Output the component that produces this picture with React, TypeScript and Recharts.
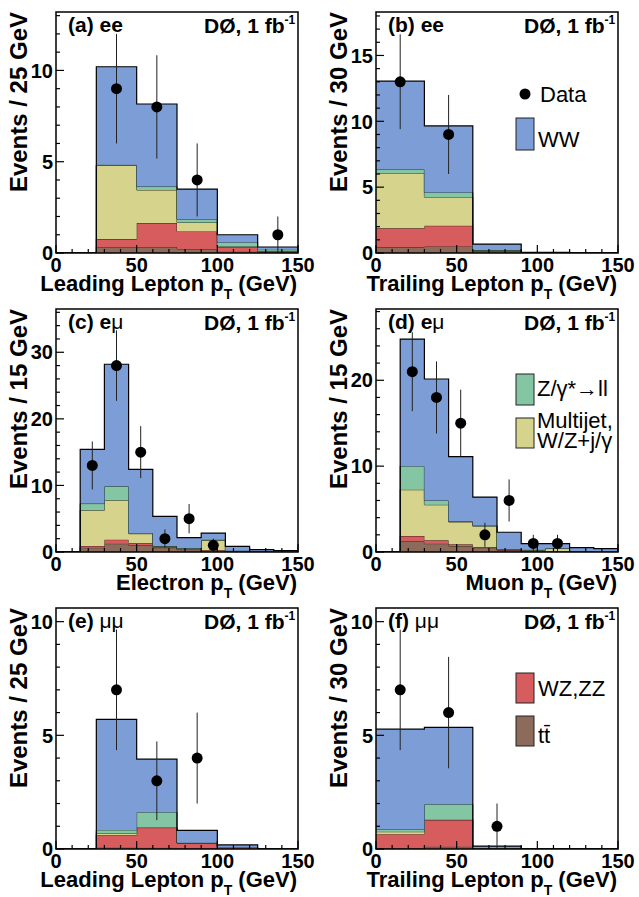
import React from 'react';
import { ComposedChart, Area, Scatter, ErrorBar, XAxis, YAxis, ReferenceArea } from 'recharts';

// D0 WW -> lepton pT distributions, six panels of stacked MC + data

// colours of the stacked backgrounds (bottom to top)
const C_TT = '#8c6b5a';
const C_WZ = '#d65c5e';
const C_MJ = '#d6d48c';
const C_ZG = '#84c6a4';
const C_WW = '#7d9dd6';

// (a) ee, leading lepton, 25 GeV bins (bin low edges)
const edgesA = [0, 25, 50, 75, 100, 125];
const ttA = [0, 0.33, 0.33, 0.22, 0.07, 0.04];
const wzA = [0, 0.43, 1.31, 0.96, 0.26, 0.05];
const mjA = [0, 4.04, 1.81, 0.49, 0.03, 0.01];
const zgA = [0, 0.03, 0.19, 0.18, 0.22, 0.08];
const wwA = [0, 5.37, 4.52, 1.65, 0.42, 0.15];
const dataXA = [37.5, 62.5, 87.5, 137.5];
const dataYA = [9, 8, 4, 1];
const dataErrA = [3, 2.83, 2, 1];

// (b) ee, trailing lepton, 30 GeV bins
const edgesB = [0, 30, 60, 90, 120];
const ttB = [0.45, 0.5, 0.13, 0.02, 0];
const wzB = [1.42, 1.57, 0.05, 0.01, 0];
const mjB = [4.19, 2.17, 0.01, 0, 0];
const zgB = [0.3, 0.36, 0.03, 0, 0];
const wwB = [6.69, 5.05, 0.46, 0.02, 0];
const dataXB = [15, 45];
const dataYB = [13, 9];
const dataErrB = [3.6, 3];

// (c) emu, electron, 15 GeV bins
const edgesC = [0, 15, 30, 45, 60, 75, 90, 105, 120, 135];
const ttC = [0, 0.65, 1.25, 1.0, 0.65, 0.35, 0.2, 0.05, 0.05, 0.03];
const wzC = [0, 0.25, 0.6, 0.35, 0.1, 0.05, 0.05, 0.05, 0.02, 0.01];
const mjC = [0, 5.37, 5.92, 1.4, 0.1, 0.1, 1.5, 0.05, 0.03, 0.01];
const zgC = [0, 1.0, 2.1, 0.1, 0.05, 0.05, 0.1, 0.05, 0.02, 0.01];
const wwC = [0, 8.13, 18.33, 9.55, 4.45, 1.6, 1.0, 0.65, 0.23, 0.14];
const dataXC = [22.5, 37.5, 52.5, 67.5, 82.5, 97.5];
const dataYC = [13, 28, 15, 2, 5, 1];
const dataErrC = [3.6, 5.3, 3.9, 1.4, 2.2, 1];

// (d) emu, muon, 15 GeV bins
const edgesD = [0, 15, 30, 45, 60, 75, 90, 105, 120, 135];
const ttD = [0, 1.24, 0.97, 0.7, 0.5, 0.2, 0.1, 0.05, 0.05, 0.03];
const wzD = [0, 0.62, 0.39, 0.2, 0.08, 0.05, 0.05, 0.05, 0.02, 0.01];
const mjD = [0, 5.39, 4.14, 2.6, 2.42, 0.05, 0.05, 0.3, 0.03, 0.01];
const zgD = [0, 2.75, 0.5, 0.07, 0.1, 0.05, 0.05, 0.05, 0.02, 0.01];
const wwD = [0, 14.8, 14.15, 7.53, 3.3, 1.95, 0.72, 0.52, 0.38, 0.34];
const dataXD = [22.5, 37.5, 52.5, 67.5, 82.5, 97.5, 112.5];
const dataYD = [21, 18, 15, 2, 6, 1, 1];
const dataErrD = [4.6, 4.2, 3.9, 1.4, 2.45, 1, 1];

// (e) mumu, leading lepton, 25 GeV bins
const edgesE = [0, 25, 50, 75, 100, 125];
const ttE = [0, 0.06, 0.05, 0.02, 0.01, 0];
const wzE = [0, 0.54, 0.89, 0.23, 0.05, 0];
const mjE = [0, 0.1, 0.01, 0.01, 0, 0];
const zgE = [0, 0.14, 0.67, 0.01, 0.01, 0];
const wwE = [0, 4.86, 2.33, 0.55, 0.11, 0];
const dataXE = [37.5, 62.5, 87.5];
const dataYE = [7, 3, 4];
const dataErrE = [2.65, 1.73, 2];

// (f) mumu, trailing lepton, 30 GeV bins
const edgesF = [0, 30, 60, 90, 120];
const ttF = [0.03, 0.1, 0.02, 0, 0];
const wzF = [0.62, 1.18, 0.01, 0, 0];
const mjF = [0.11, 0.01, 0, 0, 0];
const zgF = [0.11, 0.68, 0.01, 0, 0];
const wwF = [4.4, 3.38, 0.09, 0, 0];
const dataXF = [15, 45, 75];
const dataYF = [7, 6, 1];
const dataErrF = [2.65, 2.45, 1];

const X_MAX = 150;
const FONT = '"Liberation Sans", Arial, sans-serif';

function histRows(edges, tt, wz, mj, zg, ww) {
  const rows = edges.map((x, i) => ({ x, tt: tt[i], wz: wz[i], mj: mj[i], zg: zg[i], ww: ww[i] }));
  // closing edge so the last bin is drawn up to 150
  rows.push({ x: X_MAX, tt: 0, wz: 0, mj: 0, zg: 0, ww: 0 });
  return rows;
}

function pointRows(xs, ys, errs) {
  return xs.map((x, i) => ({ x, y: ys[i], err: [Math.min(errs[i], ys[i]), errs[i]] }));
}

function range(step, max) {
  const out = [];
  for (let i = 0; i * step <= max + 1e-9; i++) out.push(+(i * step).toFixed(4));
  return out;
}

const panels = [
  { key: 'a', rows: histRows(edgesA, ttA, wzA, mjA, zgA, wwA), pts: pointRows(dataXA, dataYA, dataErrA), ymax: 13.2, major: 5, minor: 1, label: '(a) ee', sym: false, yTitle: 'Events / 25 GeV', xTitle: 'Leading Lepton p' },
  { key: 'b', rows: histRows(edgesB, ttB, wzB, mjB, zgB, wwB), pts: pointRows(dataXB, dataYB, dataErrB), ymax: 18.3, major: 5, minor: 1, label: '(b) ee', sym: false, yTitle: 'Events / 30 GeV', xTitle: 'Trailing Lepton p' },
  { key: 'c', rows: histRows(edgesC, ttC, wzC, mjC, zgC, wwC), pts: pointRows(dataXC, dataYC, dataErrC), ymax: 36.5, major: 10, minor: 2, label: '(c) e', sym: 'μ', yTitle: 'Events / 15 GeV', xTitle: 'Electron p' },
  { key: 'd', rows: histRows(edgesD, ttD, wzD, mjD, zgD, wwD), pts: pointRows(dataXD, dataYD, dataErrD), ymax: 28.3, major: 10, minor: 2, label: '(d) e', sym: 'μ', yTitle: 'Events / 15 GeV', xTitle: 'Muon p' },
  { key: 'e', rows: histRows(edgesE, ttE, wzE, mjE, zgE, wwE), pts: pointRows(dataXE, dataYE, dataErrE), ymax: 10.6, major: 5, minor: 1, label: '(e) ', sym: 'μμ', yTitle: 'Events / 25 GeV', xTitle: 'Leading Lepton p' },
  { key: 'f', rows: histRows(edgesF, ttF, wzF, mjF, zgF, wwF), pts: pointRows(dataXF, dataYF, dataErrF), ymax: 10.6, major: 5, minor: 1, label: '(f) ', sym: 'μμ', yTitle: 'Events / 30 GeV', xTitle: 'Trailing Lepton p' },
];

// layout: chart boxes and plot frames
const CW = 320;
const CH = 300;
const FL = 56;
const FW = 242;
const FT = 12;
const rowTops = [0, 297, 596];
const frameHeights = [241, 243, 241];

function isMajor(v, major) {
  const r = v / major;
  return Math.abs(r - Math.round(r)) < 1e-6;
}

function Panel({ p, col, row }) {
  const fh = frameHeights[row];
  const bottom = FT + fh;
  const yTicks = range(p.minor, p.ymax);
  const xTicks = range(10, X_MAX);

  const yTick = (props) => {
    const v = props.payload.value;
    const y = props.y;
    const mj = isMajor(v, p.major);
    return (
      <g>
        <line x1={FL} x2={FL + (mj ? 8 : 4)} y1={y} y2={y} stroke="#000" strokeWidth={1.2} />
        {mj && (
          <text x={FL - 3} y={y} dy="0.36em" textAnchor="end" fontFamily={FONT} fontWeight="bold" fontSize={20} fill="#000">
            {v}
          </text>
        )}
      </g>
    );
  };

  const xTick = (props) => {
    const v = props.payload.value;
    const x = props.x;
    const mj = isMajor(v, 50);
    return (
      <g>
        <line x1={x} x2={x} y1={bottom} y2={bottom - (mj ? 8 : 4)} stroke="#000" strokeWidth={1.2} />
        {mj && (
          <text x={x} y={bottom + 19} textAnchor="middle" fontFamily={FONT} fontWeight="bold" fontSize={20} fill="#000">
            {v}
          </text>
        )}
      </g>
    );
  };

  return (
    <div style={{ position: 'absolute', left: col * 320, top: rowTops[row] }}>
      <ComposedChart width={CW} height={CH} data={p.rows} margin={{ top: FT, left: 0, right: CW - FL - FW, bottom: 0 }}>
        <Area type="stepAfter" dataKey="tt" stackId="s" fill={C_TT} fillOpacity={1} stroke="#3a2a22" strokeWidth={1} isAnimationActive={false} />
        <Area type="stepAfter" dataKey="wz" stackId="s" fill={C_WZ} fillOpacity={1} stroke="#4a2020" strokeWidth={1} isAnimationActive={false} />
        <Area type="stepAfter" dataKey="mj" stackId="s" fill={C_MJ} fillOpacity={1} stroke="#33331a" strokeWidth={1} isAnimationActive={false} />
        <Area type="stepAfter" dataKey="zg" stackId="s" fill={C_ZG} fillOpacity={1} stroke="#1d3a2a" strokeWidth={1} isAnimationActive={false} />
        <Area type="stepAfter" dataKey="ww" stackId="s" fill={C_WW} fillOpacity={1} stroke="#000" strokeWidth={1.2} isAnimationActive={false} />
        <Scatter
          data={p.pts}
          dataKey="y"
          fill="#000"
          isAnimationActive={false}
          shape={(s) => <circle cx={s.cx} cy={s.cy} r={5.5} fill="#000" />}
        >
          <ErrorBar dataKey="err" direction="y" width={0} stroke="#222" strokeWidth={1} />
        </Scatter>
        <ReferenceArea x1={0} x2={X_MAX} y1={0} y2={p.ymax} fill="none" fillOpacity={0} stroke="#000" strokeWidth={1.5} zIndex={1000} />
        <XAxis type="number" dataKey="x" domain={[0, X_MAX]} ticks={xTicks} interval={0} height={CH - FT - fh} axisLine={false} tickLine={false} tick={xTick} allowDataOverflow />
        <YAxis type="number" domain={[0, p.ymax]} ticks={yTicks} interval={0} width={FL} axisLine={false} tickLine={false} tick={yTick} allowDataOverflow />
      </ComposedChart>
    </div>
  );
}

function Texts() {
  const bold = { fontFamily: FONT, fontWeight: 'bold' as const, fill: '#000' };
  const reg = { fontFamily: FONT, fill: '#000' };
  const items = [];
  panels.forEach((p, i) => {
    const col = i % 2;
    const row = Math.floor(i / 2);
    const ox = col * 320;
    const ft = rowTops[row] + FT;
    const fb = ft + frameHeights[row];
    items.push(
      <g key={p.key}>
        <text x={ox + 68} y={ft + 20} fontSize={21} {...bold}>
          {p.label}
          {p.sym && <tspan fontWeight="normal">{p.sym}</tspan>}
        </text>
        <text x={ox + 204} y={ft + 21} fontSize={21} {...bold}>
          DØ, 1 fb
          <tspan fontSize={12} dy={-9}>-1</tspan>
        </text>
        <text transform={`translate(${ox + 27}, ${ft}) rotate(-90)`} textAnchor="end" fontSize={24} {...bold}>
          {p.yTitle}
        </text>
        <text x={ox + 297} y={fb + 38} textAnchor="end" fontSize={22} {...bold}>
          {p.xTitle}
          <tspan fontSize={14} dy={8}>T</tspan>
          <tspan dy={-8}> (GeV)</tspan>
        </text>
      </g>
    );
  });
  return (
    <svg width={639} height={897} style={{ position: 'absolute', left: 0, top: 0, pointerEvents: 'none' }}>
      {items}
      {/* legend pieces, split over the right-hand panels */}
      <circle cx={525} cy={94} r={5.5} fill="#000" />
      <text x={540} y={102} fontSize={22} {...reg}>Data</text>
      <rect x={516} y={118} width={18} height={32} fill={C_WW} stroke="#222" strokeWidth={1} />
      <text x={538} y={147} fontSize={22} {...reg}>WW</text>

      <rect x={516} y={374} width={18} height={31} fill={C_ZG} stroke="#222" strokeWidth={1} />
      <text x={537} y={396} fontSize={22} {...reg}>Z/γ*→ll</text>
      <rect x={516} y={418} width={18} height={30} fill={C_MJ} stroke="#222" strokeWidth={1} />
      <text x={537} y={428} fontSize={22} {...reg}>Multijet,</text>
      <text x={537} y={448} fontSize={22} {...reg}>W/Z+j/γ</text>

      <rect x={516} y={673} width={18} height={30} fill={C_WZ} stroke="#222" strokeWidth={1} />
      <text x={538} y={696} fontSize={22} {...reg}>WZ,ZZ</text>
      <rect x={516} y={716} width={18} height={30} fill={C_TT} stroke="#222" strokeWidth={1} />
      <text x={538} y={743} fontSize={22} {...reg}>tt̄</text>
    </svg>
  );
}

export default function App() {
  return (
    <div style={{ position: 'absolute', left: 0, top: 0, width: 639, height: 897, background: '#fff', overflow: 'hidden' }}>
      {panels.map((p, i) => (
        <Panel key={p.key} p={p} col={i % 2} row={Math.floor(i / 2)} />
      ))}
      <Texts />
    </div>
  );
}
